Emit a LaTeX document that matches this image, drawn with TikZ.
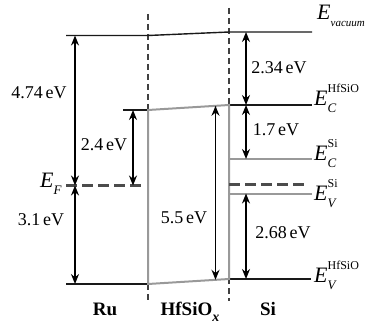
\documentclass[tikz,border=0pt]{standalone}
\usepackage{fontspec}
\setmainfont{Liberation Serif}
\usetikzlibrary{arrows.meta}

\tikzset{
  lvl/.style={line width=1.4pt, draw=black!90},
  band/.style={line width=2pt, draw=black!40},
  fermi/.style={line width=2.4pt, draw=black!70, dash pattern=on 11pt off 5pt},
  iface/.style={line width=1.2pt, draw=black!75, dash pattern=on 6pt off 4pt},
  gap/.style={line width=1.5pt, {Stealth[length=10pt,width=8pt]}-{Stealth[length=10pt,width=8pt]}},
  ev/.style={font=\fontsize{18}{20}\selectfont, inner sep=0pt},
  lbl/.style={font=\fontsize{22}{24}\selectfont\itshape, anchor=base west, inner sep=0pt},
  side/.style={font=\fontsize{19}{21}\selectfont\bfseries, anchor=base, inner sep=0pt}
}
% E with a sub- and a superscript
\newcommand{\enlvl}[2]{E\rlap{\raisebox{13pt}{\fontsize{12}{12}\selectfont\upshape #2}}\raisebox{-7pt}{\fontsize{13}{13}\selectfont #1}}

\begin{document}
\begin{tikzpicture}[x=1pt, y=-1pt]
  \useasboundingbox (0,0) rectangle (369,326);
  % levels
  \coordinate (vacRu) at (66,35.5);  \coordinate (vacL) at (148,35.5);
  \coordinate (vacR) at (229,32);    \coordinate (vacSi) at (312,32);
  \coordinate (cbRu) at (123,110);   \coordinate (cbL) at (148,110);
  \coordinate (cbR) at (229,105);    \coordinate (cbSi) at (312,105);
  \coordinate (vbRu) at (66,284);    \coordinate (vbL) at (148,284);
  \coordinate (vbR) at (229,279);    \coordinate (vbSi) at (311,279);
  \coordinate (efRu) at (66,185.5);  \coordinate (efRuEnd) at (142,185.5);
  \coordinate (efSi) at (229,184.5); \coordinate (efSiEnd) at (305,184.5);
  \coordinate (cSi) at (312,159);    \coordinate (vSi) at (312,193.5);

  % interfaces
  \draw [iface] (148,14) -- (148,301);
  \draw [iface] (229,8) -- (229,301);

  \draw [lvl] (vacRu) -- (vacL) -- (vacR) -- (vacSi);
  \draw [lvl] (cbRu) -- (cbL);
  \draw [lvl] (cbR) -- (cbSi);
  \draw [lvl] (vbRu) -- (vbL);
  \draw [lvl] (vbR) -- (vbSi);
  \draw [band] (vbL) -- (cbL) -- (cbR) -- (vbR) -- cycle;
  \draw [band] (cbR |- cSi) -- (cSi);
  \draw [band] (cbR |- vSi) -- (vSi);
  \draw [fermi] (efRu) -- (efRuEnd);
  \draw [fermi] (efSi) -- (efSiEnd);

  % gaps
  \draw [gap] (75,0 |- vacRu) -- (75,0 |- efRu);
  \draw [gap] (75,0 |- efRu) -- (75,0 |- vbRu);
  \draw [gap] (133,0 |- cbRu) -- (133,0 |- efRu);
  \draw [gap] (215.5,105.8) -- (215.5,279.8);
  \draw [gap] (246,0 |- vacSi) -- (246,0 |- cbSi);
  \draw [gap] (246,0 |- cbSi) -- (246,0 |- cSi);
  \draw [gap] (246,0 |- vSi) -- (246,0 |- vbSi);

  \node [ev] (wRu) at (39,93) {4.74\,eV};
  \node [ev] (barRu) at (104,145) {2.4\,eV};
  \node [ev] (efVb) at (41,220) {3.1\,eV};
  \node [ev] (egOx) at (184,218) {5.5\,eV};
  \node [ev] (chiOx) at (279,68) {2.34\,eV};
  \node [ev] (dEc) at (276,130) {1.7\,eV};
  \node [ev] (dEv) at (283,233) {2.68\,eV};

  \node [lbl] (lVac) at (317,20) {\enlvl{\fontsize{11}{11}\selectfont\itshape vacuum}{}};
  \node [lbl] (lCox) at (314,106) {\enlvl{C}{HfSiO}};
  \node [lbl] (lCsi) at (314,160) {\enlvl{C}{Si}};
  \node [lbl] (lVsi) at (314,200) {\enlvl{V}{Si}};
  \node [lbl] (lVox) at (314,282) {\enlvl{V}{HfSiO}};
  \node [lbl] (lEf) at (40,187) {\enlvl{F}{}};

  \node [side] (ru) at (105,315) {Ru};
  \node [side] (ox) at (190,315) {HfSiO\raisebox{-6pt}{\fontsize{14}{14}\selectfont\itshape x}};
  \node [side] (si) at (268,315) {Si};
\end{tikzpicture}
\end{document}
